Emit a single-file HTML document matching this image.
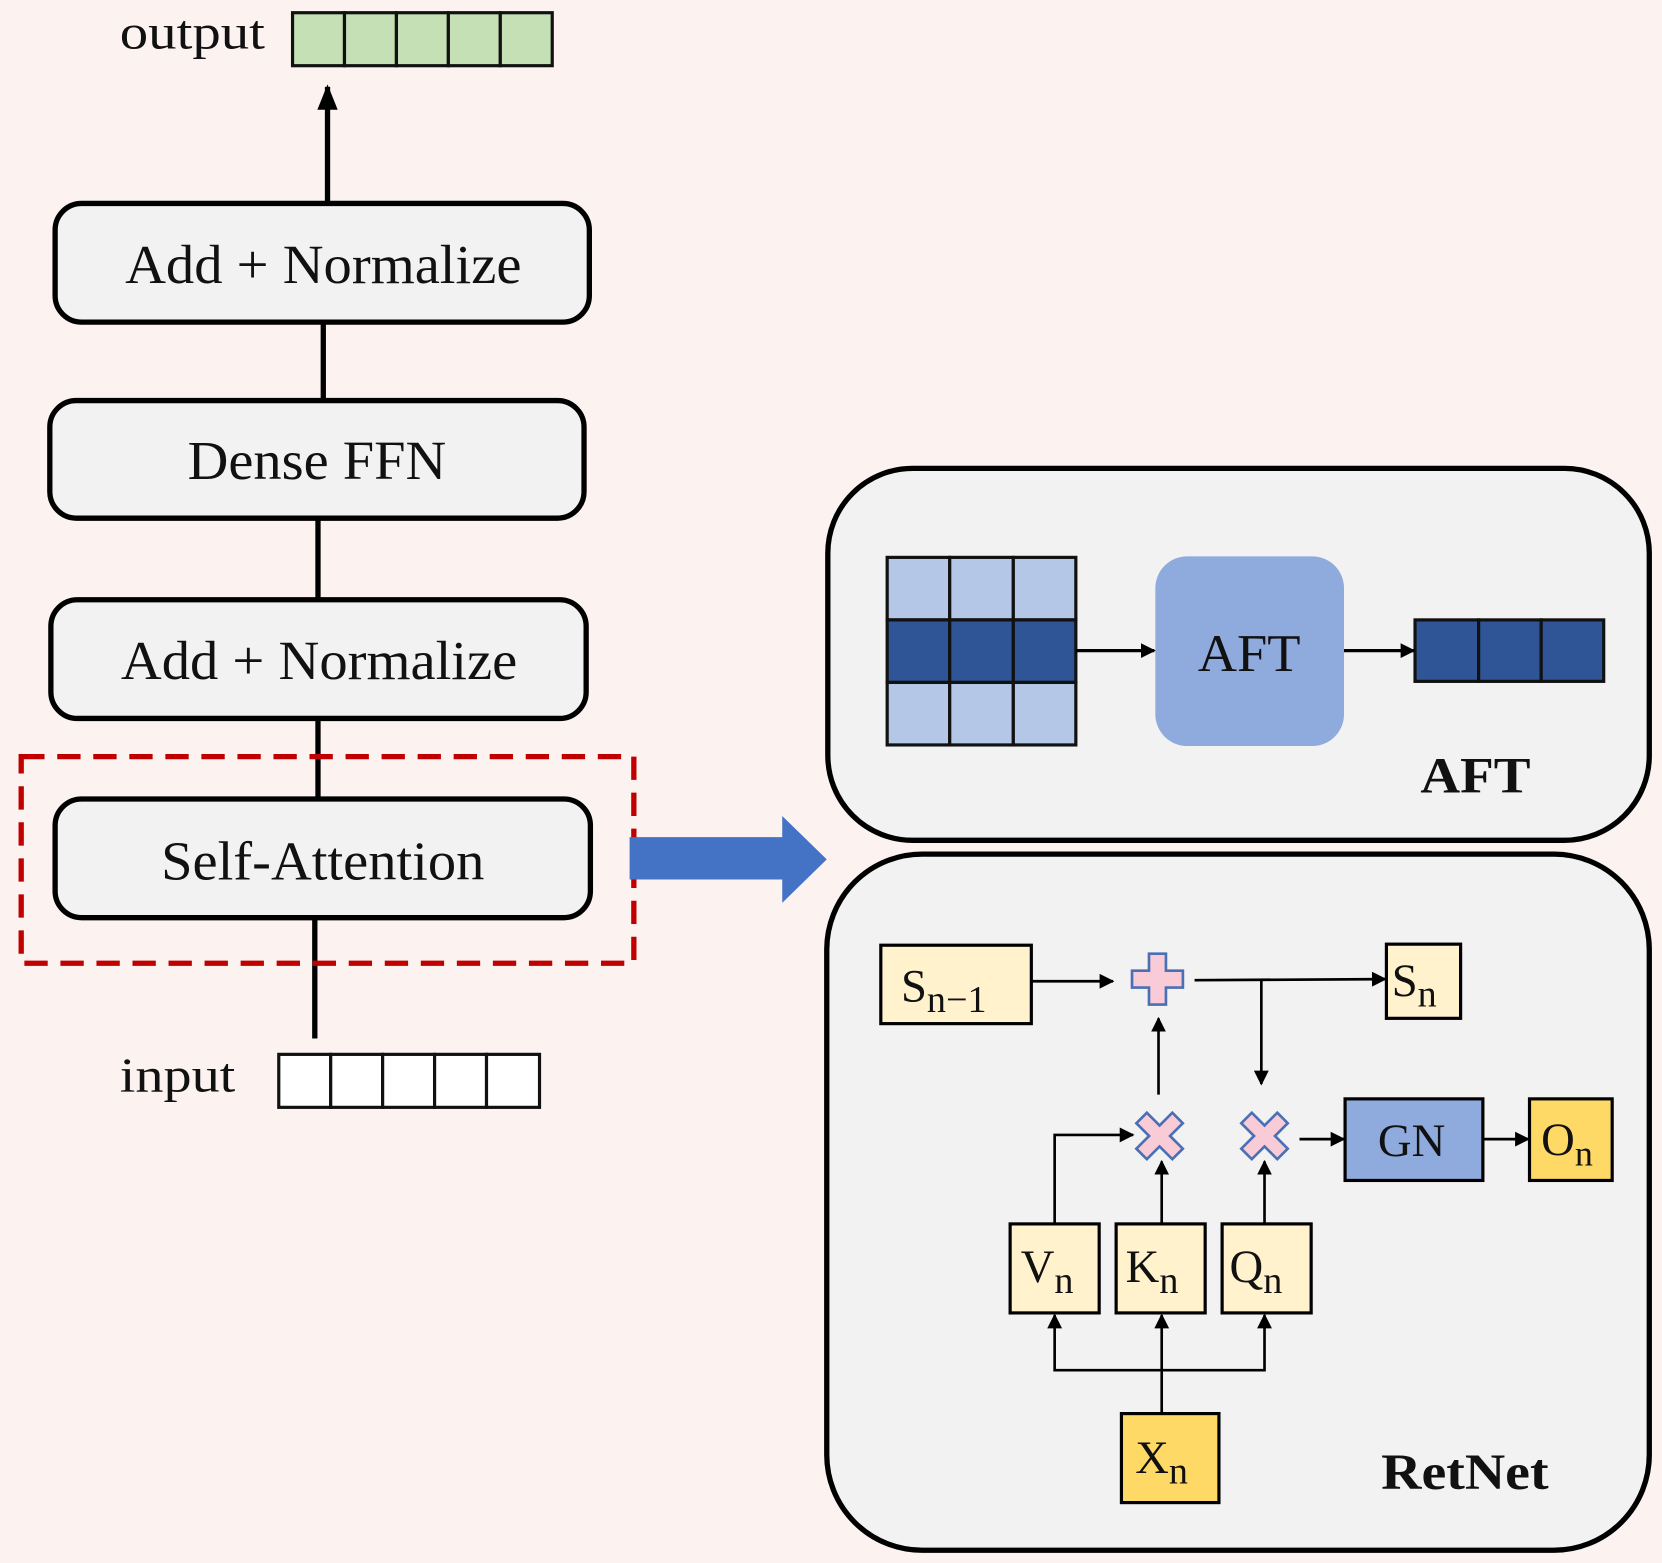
<!DOCTYPE html>
<html><head><meta charset="utf-8"><style>
html,body{margin:0;padding:0;background:#fcf3f1;}
svg{display:block;}
text{font-family:"Liberation Serif",serif;fill:#111;}
</style></head><body>
<svg width="1662" height="1563" viewBox="0 0 1568 1475" preserveAspectRatio="none" xmlns="http://www.w3.org/2000/svg">
<defs>
<marker id="b" viewBox="0 0 10 10" refX="9" refY="5" markerWidth="14" markerHeight="14" orient="auto" markerUnits="userSpaceOnUse"><path d="M0,0L10,5L0,10z" fill="#000"/></marker>
<marker id="c" viewBox="0 0 10 10" refX="9" refY="5" markerWidth="24" markerHeight="24" orient="auto" markerUnits="userSpaceOnUse"><path d="M0,1L10,5L0,9z" fill="#000"/></marker>
</defs>
<rect width="1568" height="1475" fill="#fcf3f1"/>
<text x="113" y="46" font-size="46" textLength="137" lengthAdjust="spacingAndGlyphs">output</text>
<g fill="#c5e0b4" stroke="#111" stroke-width="3">
<rect x="276" y="12" width="49" height="50"/><rect x="325" y="12" width="49" height="50"/><rect x="374" y="12" width="49" height="50"/><rect x="423" y="12" width="49" height="50"/><rect x="472" y="12" width="49" height="50"/>
</g>
<line x1="309" y1="192" x2="309" y2="82" stroke="#000" stroke-width="5" marker-end="url(#c)"/>
<g stroke="#000" stroke-width="5">
<line x1="305" y1="304" x2="305" y2="378"/>
<line x1="300" y1="489" x2="300" y2="566"/>
<line x1="300" y1="678" x2="300" y2="754"/>
<line x1="297" y1="866" x2="297" y2="980"/>
</g>
<g fill="#f2f2f2" stroke="#000" stroke-width="5">
<rect x="52" y="192" width="504" height="112" rx="25"/>
<rect x="47" y="378" width="504" height="111" rx="25"/>
<rect x="48" y="566" width="505" height="112" rx="25"/>
<rect x="52" y="754" width="505" height="112" rx="25"/>
</g>
<g font-size="52">
<text x="118" y="267" textLength="374" lengthAdjust="spacingAndGlyphs">Add + Normalize</text>
<text x="177" y="452" textLength="244" lengthAdjust="spacingAndGlyphs">Dense FFN</text>
<text x="114" y="641" textLength="374" lengthAdjust="spacingAndGlyphs">Add + Normalize</text>
<text x="152" y="830" textLength="305" lengthAdjust="spacingAndGlyphs">Self-Attention</text>
</g>
<rect x="20" y="714" width="578" height="195" fill="none" stroke="#c00000" stroke-width="5" stroke-dasharray="22 12"/>
<text x="113" y="1030" font-size="46" textLength="109" lengthAdjust="spacingAndGlyphs">input</text>
<g fill="#fff" stroke="#111" stroke-width="3">
<rect x="263" y="995" width="49" height="50"/><rect x="312" y="995" width="49" height="50"/><rect x="361" y="995" width="49" height="50"/><rect x="410" y="995" width="49" height="50"/><rect x="459" y="995" width="50" height="50"/>
</g>
<path d="M594,790H738V770L780,811L738,852V830H594Z" fill="#4472c4"/>
<rect x="781" y="442" width="775" height="351" rx="80" fill="#f2f2f2" stroke="#000" stroke-width="5"/>
<g stroke="#111" stroke-width="3">
<rect x="837" y="526" width="59" height="59" fill="#b4c7e7"/><rect x="896" y="526" width="60" height="59" fill="#b4c7e7"/><rect x="956" y="526" width="59" height="59" fill="#b4c7e7"/>
<rect x="837" y="585" width="59" height="59" fill="#2f5597"/><rect x="896" y="585" width="60" height="59" fill="#2f5597"/><rect x="956" y="585" width="59" height="59" fill="#2f5597"/>
<rect x="837" y="644" width="59" height="59" fill="#b4c7e7"/><rect x="896" y="644" width="60" height="59" fill="#b4c7e7"/><rect x="956" y="644" width="59" height="59" fill="#b4c7e7"/>
<rect x="1335" y="585" width="60" height="58" fill="#2f5597"/><rect x="1395" y="585" width="59" height="58" fill="#2f5597"/><rect x="1454" y="585" width="59" height="58" fill="#2f5597"/>
</g>
<rect x="1090" y="525" width="178" height="179" rx="30" fill="#8faadc"/>
<text x="1130" y="633" font-size="50" textLength="97" lengthAdjust="spacingAndGlyphs">AFT</text>
<line x1="1015" y1="614" x2="1089" y2="614" stroke="#000" stroke-width="3" marker-end="url(#b)"/>
<line x1="1268" y1="614" x2="1334" y2="614" stroke="#000" stroke-width="3" marker-end="url(#b)"/>
<text x="1340" y="748" font-size="48" font-weight="bold" textLength="104" lengthAdjust="spacingAndGlyphs">AFT</text>
<rect x="780" y="806" width="776" height="657" rx="90" fill="#f2f2f2" stroke="#000" stroke-width="5"/>
<g stroke="#000" stroke-width="3">
<rect x="831" y="892" width="142" height="74" fill="#fff2cc"/>
<rect x="1308" y="891" width="70" height="70" fill="#fff2cc"/>
<rect x="1269" y="1037" width="130" height="77" fill="#8faadc"/>
<rect x="1443" y="1037" width="78" height="77" fill="#ffd966"/>
<rect x="953" y="1155" width="84" height="84" fill="#fff2cc"/>
<rect x="1053" y="1155" width="84" height="84" fill="#fff2cc"/>
<rect x="1153" y="1155" width="84" height="84" fill="#fff2cc"/>
<rect x="1058" y="1334" width="92" height="84" fill="#ffd966"/>
</g>
<g stroke="#000" stroke-width="2.5" fill="none">
<line x1="973" y1="926" x2="1050" y2="926" marker-end="url(#b)"/>
<line x1="1127" y1="925" x2="1307" y2="924" marker-end="url(#b)"/>
<line x1="1190" y1="925" x2="1190" y2="1023" marker-end="url(#b)"/>
<line x1="1093" y1="1033" x2="1093" y2="961" marker-end="url(#b)"/>
<line x1="1226" y1="1075" x2="1268" y2="1075" marker-end="url(#b)"/>
<line x1="1399" y1="1075" x2="1442" y2="1075" marker-end="url(#b)"/>
<polyline points="995,1155 995,1071 1069,1071" marker-end="url(#b)"/>
<line x1="1096" y1="1155" x2="1096" y2="1096" marker-end="url(#b)"/>
<line x1="1193" y1="1155" x2="1193" y2="1096" marker-end="url(#b)"/>
<line x1="1096" y1="1334" x2="1096" y2="1241" marker-end="url(#b)"/>
<polyline points="1096,1293 995,1293 995,1241" marker-end="url(#b)"/>
<polyline points="1096,1293 1193,1293 1193,1241" marker-end="url(#b)"/>
</g>
<path d="M1084,900h16v16h16v16h-16v16h-16v-16h-16v-16h16z" fill="#f8cbd6" stroke="#4a6fb5" stroke-width="2.5"/>
<g fill="#f8cbd6" stroke="#4a6fb5" stroke-width="2.5">
<path transform="translate(1094,1072) rotate(45)" d="M-7,-24h14v17h17v14h-17v17h-14v-17h-17v-14h17z"/>
<path transform="translate(1193,1072) rotate(45)" d="M-7,-24h14v17h17v14h-17v17h-14v-17h-17v-14h17z"/>
</g>
<g font-size="44">
<text x="850" y="945">S<tspan font-size="36" dy="10">n−1</tspan></text>
<text x="1313" y="940">S<tspan font-size="36" dy="10">n</tspan></text>
<text x="1300" y="1091">GN</text>
<text x="1454" y="1090">O<tspan font-size="34" dy="10">n</tspan></text>
<text x="963" y="1210">V<tspan font-size="36" dy="10">n</tspan></text>
<text x="1062" y="1210">K<tspan font-size="36" dy="10">n</tspan></text>
<text x="1160" y="1210">Q<tspan font-size="36" dy="10">n</tspan></text>
<text x="1071" y="1390">X<tspan font-size="36" dy="10">n</tspan></text>
</g>
<text x="1303" y="1405" font-size="48" font-weight="bold" textLength="158" lengthAdjust="spacingAndGlyphs">RetNet</text>
</svg>
</body></html>
